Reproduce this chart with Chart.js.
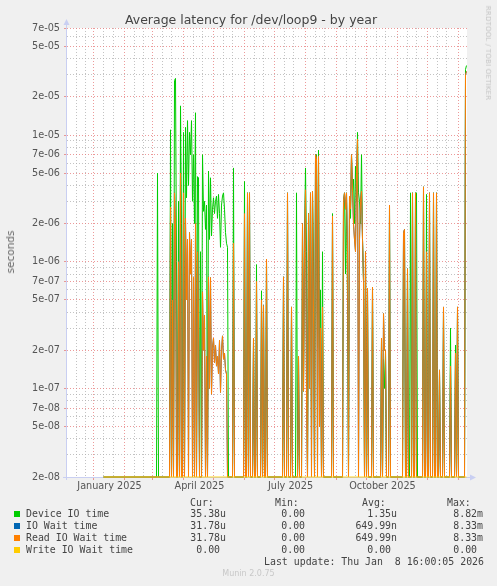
<!DOCTYPE html>
<html>
<head>
<meta charset="utf-8">
<title>Average latency for /dev/loop9 - by year</title>
<script src="https://cdn.jsdelivr.net/npm/chart.js@4/dist/chart.umd.min.js"></script>
<style>
  html, body { margin: 0; padding: 0; background: #f0f0f0; }
  #wrap { position: relative; width: 497px; height: 586px; overflow: hidden; background: #f0f0f0; }
  #wrap canvas { position: absolute; left: 0; top: 0; }
  .t { position: absolute; white-space: pre; line-height: 12px; }
  .title { left: 0; width: 502px; top: 12px; text-align: center; font: 12.5px "DejaVu Sans", sans-serif; color: #444; }
  .ylab { left: 10px; top: 252px; font: normal 10.5px "DejaVu Sans", sans-serif; color: #666;
          transform: translate(-50%, -50%) rotate(-90deg); }
  .rrd { left: 488px; top: 53px; font: 7px "DejaVu Sans", sans-serif; color: #c4c4c4;
         transform: translate(-50%, -50%) rotate(90deg); letter-spacing: 0.2px; }
  .mono { font: 9.9px "DejaVu Sans Mono", monospace; color: #444; }
  .sw { position: absolute; width: 6px; height: 6px; left: 14px; }
  .r { text-align: right; }
  .munin { left: 0; width: 497px; text-align: center; top: 569px; font: 8px "DejaVu Sans", sans-serif; color: #c8c8c8; }
</style>
</head>
<body>
<div id="wrap">
  <canvas id="latencyChart" width="497" height="586"></canvas>
  <div class="t title">Average latency for /dev/loop9 - by year</div>
  <div class="t ylab">seconds</div>
  <div class="t rrd">RRDTOOL / TOBI OETIKER</div>
  <div id="legend"></div>
  <div class="t munin">Munin 2.0.75</div>
</div>
<script>
// day 0 = 1 Jan 2025, one sample per day, first sample on day 10
const START_DAY = 10;

const seriesNames = ["Device IO time", "IO Wait time", "Read IO Wait time", "Write IO Wait time"];
const seriesColors = ["#00cc00", "#0066b3", "#ff8000", "#ffcc00"];

// Device IO time (seconds)
const deviceIO = [
  0,0,0,0,0,0,0,0,0,0,
  0,0,0,0,0,0,0,0,0,0,
  0,0,0,0,0,0,0,0,0,0,
  0,0,0,0,0,0,0,0,0,0,
  0,0,0,0,0,0,0,0,0,0,
  0,0,0,0,5e-6,0,0,0,0,0,
  0,0,0,0,0,0,0,1.1e-5,0,2e-6,
  0,2.7e-5,2.8e-5,1e-6,0,3e-6,0,1.7e-5,2e-6,0,
  1.05e-5,0,1.15e-5,3.2e-6,1.3e-5,4e-6,1.05e-5,7e-6,1.3e-5,3e-6,
  7e-6,2e-6,1.5e-5,0,4.7e-6,4.6e-6,0,1.2e-6,0,7e-6,
  2.5e-6,3e-6,1.8e-6,2.8e-6,0,5.2e-6,1.5e-6,4.6e-6,1.6e-6,2.6e-6,
  3.2e-6,2.4e-6,3e-6,3.3e-6,2.2e-6,3.4e-6,2.4e-6,1.3e-6,2.8e-6,3.3e-6,
  3.5e-6,2.6e-6,1.7e-6,1.4e-6,1.3e-6,0,0,0,0,0,
  5.5e-6,0,0,0,0,0,0,0,0,0,
  0,4.3e-6,0,0,3.5e-6,0,3.5e-6,0,0,0,
  2.5e-7,0,0,9.5e-7,0,0,0,0,5.9e-7,0,
  4.5e-7,0,0,1.05e-6,0,0,0,0,0,0,
  0,0,0,0,0,0,0,0,0,0,
  7.6e-7,0,0,0,3.5e-6,0,0,0,4.4e-7,0,
  0,0,0,3.5e-6,0,1.8e-7,0,0,0,2e-6,
  9.5e-8,1.5e-6,5.5e-6,1.2e-6,0,2.4e-6,3e-7,3.5e-6,4e-8,3.6e-6,
  1e-6,0,7e-6,7e-6,2.1e-7,7.6e-6,1e-7,6e-7,0,1.2e-6,
  0,0,0,0,0,0,0,0,0,2.4e-6,
  0,0,0,0,0,0,0,0,0,0,
  3e-6,3.5e-6,8e-7,3.5e-6,5e-7,0,3.3e-6,2.2e-6,7e-6,3.6e-6,
  4.5e-6,2e-6,5.7e-6,3e-6,1.05e-5,3.5e-6,3e-6,2e-6,7e-6,1.5e-6,
  7e-7,0,1.2e-6,0,6.2e-7,0,0,0,0,6.3e-7,
  0,0,0,0,0,0,0,0,2.5e-7,0,
  1.7e-7,1e-7,2e-7,0,0,0,2.8e-6,0,0,0,
  0,0,0,0,0,0,0,0,0,0,
  1.5e-6,1.8e-6,0,0,8.8e-7,0,0,3.5e-6,0,3.5e-6,
  0,0,3.5e-6,3.5e-6,0,0,0,0,0,0,
  3.9e-6,0,0,3.4e-6,0,0,3.5e-6,0,0,0,
  3.5e-6,0,0,3.5e-6,0,0,1.4e-7,0,0,0,
  4.2e-7,0,0,0,0,0,0,3e-7,0,0,
  0,0,2.2e-7,0,4.4e-7,0,0,0,0,0,
  0,0,3.3e-5,3.538e-5
];

// Read IO Wait time (seconds)
const readWait = [
  0,0,0,0,0,0,0,0,0,0,
  0,0,0,0,0,0,0,0,0,0,
  0,0,0,0,0,0,0,0,0,0,
  0,0,0,0,0,0,0,0,0,0,
  0,0,0,0,0,0,0,0,0,0,
  0,0,0,0,0,0,0,0,0,0,
  0,0,0,0,0,0,0,2.7e-6,0,5e-7,
  0,3.5e-6,2e-6,0,0,1e-6,0,5e-6,0,0,
  3.5e-6,0,2.2e-6,5e-7,1.5e-6,0,1.7e-6,8e-7,1.5e-6,0,
  7.6e-7,0,2e-6,0,1.2e-6,4e-7,0,0,0,5.8e-7,
  2e-7,3.8e-7,0,1.8e-7,0,7.6e-7,1e-7,7.5e-7,9e-8,2.1e-7,
  2.5e-7,1.6e-7,2.2e-7,1.5e-7,1.8e-7,1.3e-7,2.4e-7,9.3e-8,2e-7,2.6e-7,
  1.7e-7,1.9e-7,1.4e-7,1.3e-7,0,0,0,0,0,0,
  1.4e-6,0,0,0,0,0,0,0,0,0,
  0,2.4e-6,0,0,3.5e-6,0,3.5e-6,0,0,0,
  2.5e-7,0,0,7e-7,0,0,0,0,5e-7,0,
  4.5e-7,0,0,1.05e-6,0,0,0,0,0,0,
  0,0,0,0,0,0,0,0,0,0,
  7.6e-7,0,0,0,3.5e-6,0,0,0,4.4e-7,0,
  0,0,0,0,0,1.8e-7,0,0,0,2e-6,
  9.5e-8,1.2e-6,3.7e-6,9e-8,0,2.4e-6,1e-7,3.5e-6,0,3.6e-6,
  4e-7,0,7e-6,6.5e-6,0,6.8e-6,5e-8,3e-7,0,4.4e-7,
  0,0,0,0,0,0,0,0,0,2.3e-6,
  0,0,0,0,0,0,0,0,0,0,
  3e-6,3.5e-6,2.6e-6,3.5e-6,1.2e-6,0,3.3e-6,2.6e-6,7e-6,3.6e-6,
  2e-6,1.5e-6,1.2e-6,5e-6,9.3e-6,0,1.5e-6,3e-6,3.6e-6,1.5e-6,
  7e-7,0,1.2e-6,0,6.2e-7,0,0,0,0,6.3e-7,
  0,0,0,0,0,0,0,0,2.5e-7,0,
  3.9e-7,2e-7,2e-7,0,0,0,2.8e-6,0,0,0,
  0,0,0,0,0,0,0,0,0,0,
  1.7e-6,1.8e-6,0,0,8.8e-7,0,0,0,0,3.5e-6,
  0,0,3.5e-6,0,0,0,0,0,0,0,
  3.9e-6,0,0,1.2e-6,0,0,3.5e-6,0,0,0,
  3.5e-6,0,0,3.5e-6,0,0,1.4e-7,0,0,0,
  4.4e-7,0,0,0,0,0,0,1.5e-7,0,0,
  0,0,1.9e-7,0,4.4e-7,0,0,0,0,0,
  0,0,3e-5,3.178e-5
];

// IO Wait time is identical to Read IO Wait time on this device (same cur/avg/max)
const ioWait = readWait;

// Write IO Wait time: always zero
const writeWait = [
  0,0,0,0,0,0,0,0,0,0,0,0,0,0,0,0,0,0,0,0,
  0,0,0,0,0,0,0,0,0,0,0,0,0,0,0,0,0,0,0,0,
  0,0,0,0,0,0,0,0,0,0,0,0,0,0,0,0,0,0,0,0,
  0,0,0,0,0,0,0,0,0,0,0,0,0,0,0,0,0,0,0,0,
  0,0,0,0,0,0,0,0,0,0,0,0,0,0,0,0,0,0,0,0,
  0,0,0,0,0,0,0,0,0,0,0,0,0,0,0,0,0,0,0,0,
  0,0,0,0,0,0,0,0,0,0,0,0,0,0,0,0,0,0,0,0,
  0,0,0,0,0,0,0,0,0,0,0,0,0,0,0,0,0,0,0,0,
  0,0,0,0,0,0,0,0,0,0,0,0,0,0,0,0,0,0,0,0,
  0,0,0,0,0,0,0,0,0,0,0,0,0,0,0,0,0,0,0,0,
  0,0,0,0,0,0,0,0,0,0,0,0,0,0,0,0,0,0,0,0,
  0,0,0,0,0,0,0,0,0,0,0,0,0,0,0,0,0,0,0,0,
  0,0,0,0,0,0,0,0,0,0,0,0,0,0,0,0,0,0,0,0,
  0,0,0,0,0,0,0,0,0,0,0,0,0,0,0,0,0,0,0,0,
  0,0,0,0,0,0,0,0,0,0,0,0,0,0,0,0,0,0,0,0,
  0,0,0,0,0,0,0,0,0,0,0,0,0,0,0,0,0,0,0,0,
  0,0,0,0,0,0,0,0,0,0,0,0,0,0,0,0,0,0,0,0,
  0,0,0,0,0,0,0,0,0,0,0,0,0,0,0,0,0,0,0,0,
  0,0,0,0
];

// legend table
const statCur = ["35.38u", "31.78u", "31.78u", "0.00 "];
const statMin = ["0.00 ", "0.00 ", "0.00 ", "0.00 "];
const statAvg = ["1.35u", "649.99n", "649.99n", "0.00 "];
const statMax = ["8.82m", "8.33m", "8.33m", "0.00 "];
const lastUpdate = "Last update: Thu Jan  8 16:00:05 2026";

// axes (half-day offset so daily samples fall on pixel centres)
const X_MIN = -26.5, X_MAX = 373.5;
const monthStartDays = [0, 31, 59, 90, 120, 151, 181, 212, 243, 273, 304, 334, 365];
const minorGridDays = [-17, -8, 10, 20, 41, 50, 69, 78, 100, 109, 130, 139, 161, 170, 191, 200,
                       222, 231, 253, 262, 283, 292, 314, 323, 344, 353];
const xLabelDays = [16, 106, 197, 289];
const xLabels = ["January 2025", "April 2025", "July 2025", "October 2025"];

const Y_MIN = 2e-8, Y_MAX = 7e-5;
const yLabelValues = [2e-8, 5e-8, 7e-8, 1e-7, 2e-7, 5e-7, 7e-7, 1e-6, 2e-6, 5e-6, 7e-6, 1e-5, 2e-5, 5e-5, 7e-5];

const RED = "rgba(230,120,120,0.75)";
const GRAY = "rgba(175,175,175,0.75)";
const AXIS = "#c9cff2";

function sameVal(a, b) { return Math.abs(a / b - 1) < 1e-6; }
function isYLabel(v) { return yLabelValues.some(l => sameVal(v, l)); }
function fmtExp(v) { return v.toExponential(0).replace(/e([+-])(\d)$/, "e$10$2"); }

const yGridValues = [];
for (let e = -8; e <= -5; e++) {
  for (let m = 1; m <= 9; m++) {
    const v = Number((m * Math.pow(10, e)).toPrecision(3));
    if (v >= Y_MIN * 0.999 && v <= Y_MAX * 1.001) yGridValues.push(v);
  }
}

function toPoints(arr) {
  return arr.map((v, i) => ({ x: START_DAY + i, y: v }));
}

// legend html
const legend = document.getElementById("legend");
function addText(cls, text, style) {
  const d = document.createElement("div");
  d.className = "t mono " + cls;
  d.textContent = text;
  Object.assign(d.style, style);
  legend.appendChild(d);
}
addText("", "Cur:", { left: "190px", top: "497px" });
addText("", "Min:", { left: "275px", top: "497px" });
addText("", "Avg:", { left: "362px", top: "497px" });
addText("", "Max:", { left: "447px", top: "497px" });
seriesNames.forEach((name, i) => {
  const top = 508 + i * 12;
  const sw = document.createElement("div");
  sw.className = "sw";
  sw.style.top = (top + 3) + "px";
  sw.style.background = seriesColors[i];
  legend.appendChild(sw);
  addText("", name, { left: "26px", top: top + "px" });
  addText("r", statCur[i], { right: (497 - 226) + "px", top: top + "px" });
  addText("r", statMin[i], { right: (497 - 311) + "px", top: top + "px" });
  addText("r", statAvg[i], { right: (497 - 397) + "px", top: top + "px" });
  addText("r", statMax[i], { right: (497 - 483) + "px", top: top + "px" });
});
addText("r", lastUpdate, { right: (497 - 484) + "px", top: "556px" });

const munin = {
  id: "munin",
  beforeDraw(chart) {
    const { ctx, chartArea: a } = chart;
    ctx.save();
    ctx.fillStyle = "#ffffff";
    ctx.fillRect(a.left, a.top, a.right - a.left, a.bottom - a.top);
    ctx.restore();
  },
  beforeDatasetsDraw(chart) {
    const { ctx, chartArea: a } = chart;
    ctx.save();
    ctx.strokeStyle = AXIS;
    ctx.fillStyle = AXIS;
    ctx.lineWidth = 1;
    ctx.beginPath();
    ctx.moveTo(a.left - 0.5, a.bottom + 3);
    ctx.lineTo(a.left - 0.5, a.top - 4);
    ctx.moveTo(a.left - 4, a.bottom + 0.5);
    ctx.lineTo(a.right + 4, a.bottom + 0.5);
    ctx.stroke();
    ctx.beginPath();
    ctx.moveTo(a.left - 3.5, a.top - 3);
    ctx.lineTo(a.left + 2.5, a.top - 3);
    ctx.lineTo(a.left - 0.5, a.top - 9);
    ctx.closePath();
    ctx.fill();
    ctx.beginPath();
    ctx.moveTo(a.right + 3, a.bottom - 2.5);
    ctx.lineTo(a.right + 3, a.bottom + 3.5);
    ctx.lineTo(a.right + 9, a.bottom + 0.5);
    ctx.closePath();
    ctx.fill();
    ctx.restore();
  }
};

const clip = { left: 0, top: 0, right: 0, bottom: 1 };
const seriesData = [deviceIO, ioWait, readWait, writeWait];
const datasets = seriesData.map((arr, i) => ({
  label: seriesNames[i],
  data: toPoints(arr),
  borderColor: seriesColors[i],
  backgroundColor: seriesColors[i],
  borderWidth: 1,
  pointRadius: 0,
  tension: 0,
  fill: false,
  clip: clip,
  order: 4 - i
}));

new Chart(document.getElementById("latencyChart").getContext("2d"), {
  type: "line",
  data: { datasets: datasets },
  plugins: [munin],
  options: {
    responsive: false,
    animation: false,
    parsing: false,
    events: [],
    layout: { padding: { left: 0, top: 28, right: 30, bottom: 89 } },
    plugins: { legend: { display: false }, tooltip: { enabled: false } },
    scales: {
      x: {
        type: "linear",
        min: X_MIN,
        max: X_MAX,
        afterBuildTicks(scale) {
          const vals = monthStartDays.concat(minorGridDays, xLabelDays)
            .filter(v => v >= X_MIN && v <= X_MAX)
            .sort((a, b) => a - b);
          scale.ticks = vals.map(v => ({ value: v }));
        },
        afterFit(scale) { scale.height = 20; },
        ticks: {
          autoSkip: false,
          maxRotation: 0,
          padding: 1,
          color: "#555",
          font: { family: "DejaVu Sans", size: 9.7 },
          callback(v) {
            const k = xLabelDays.indexOf(v);
            return k >= 0 ? xLabels[k] : "";
          }
        },
        grid: {
          lineWidth: 1,
          tickLength: 3,
          color(ctx) {
            const v = ctx.tick ? ctx.tick.value : null;
            if (monthStartDays.includes(v)) return RED;
            if (minorGridDays.includes(v)) return GRAY;
            return "rgba(0,0,0,0)";
          },
          tickColor(ctx) {
            const v = ctx.tick ? ctx.tick.value : null;
            return monthStartDays.includes(v) ? RED : "rgba(0,0,0,0)";
          }
        },
        border: { display: false, dash: [1, 2] }
      },
      y: {
        type: "logarithmic",
        min: Y_MIN,
        max: Y_MAX,
        afterBuildTicks(scale) {
          scale.ticks = yGridValues.map(v => ({ value: v }));
        },
        afterFit(scale) { scale.width = 67; },
        ticks: {
          autoSkip: false,
          padding: 4,
          color: "#555",
          font: { family: "DejaVu Sans", size: 9.7 },
          callback(v) { return isYLabel(v) ? fmtExp(v) : ""; }
        },
        grid: {
          lineWidth: 1,
          tickLength: 3,
          color(ctx) { return ctx.tick && isYLabel(ctx.tick.value) ? RED : GRAY; },
          tickColor(ctx) { return ctx.tick && isYLabel(ctx.tick.value) ? RED : "rgba(0,0,0,0)"; }
        },
        border: { display: false, dash: [1, 2] }
      }
    }
  }
});
</script>
</body>
</html>
